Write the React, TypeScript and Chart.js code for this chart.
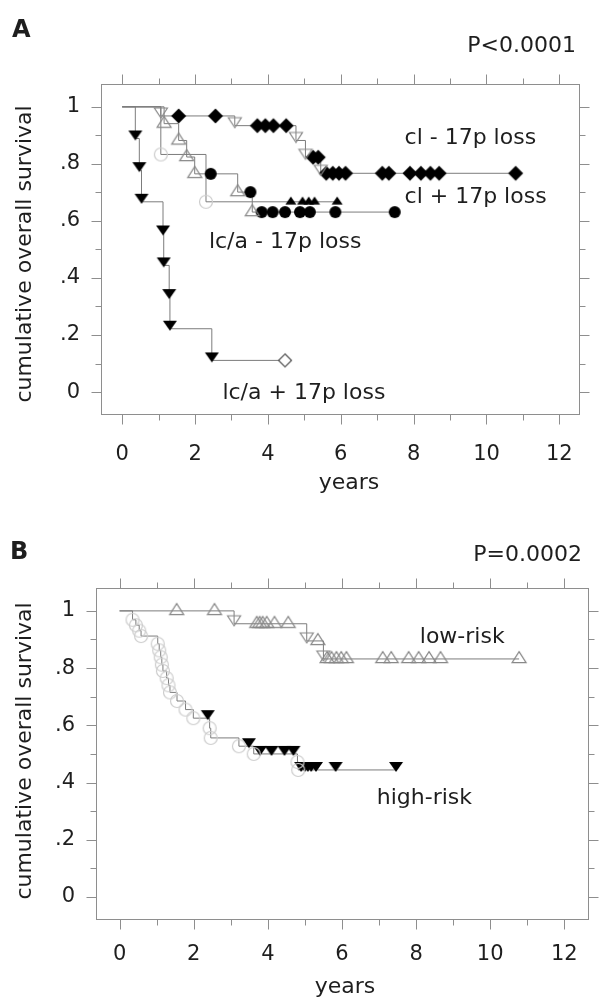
import React, { useEffect, useRef } from 'react';
import { Chart, registerables } from 'chart.js';

Chart.register(...registerables);

const FONT_FAMILY = '"DejaVu Sans", "Liberation Sans", sans-serif';
const TEXT_COLOR = '#1e1e1e';
const LINE_COLOR = '#7c7c7c';
const BOX_COLOR = '#8e8e8e';

// ---------- axes ----------
const xTickValues = [0, 2, 4, 6, 8, 10, 12];
const xTickMarks = [0, 1, 2, 3, 4, 5, 6, 7, 8, 9, 10, 11, 12];
const yTickValues = [0, 0.2, 0.4, 0.6, 0.8, 1];
const yTickLabels = ['0', '.2', '.4', '.6', '.8', '1'];
const yTickMarks = [0, 0.1, 0.2, 0.3, 0.4, 0.5, 0.6, 0.7, 0.8, 0.9, 1];

// ---------- Panel A ----------
// lc/a + 17p loss
const aLcaPlusEventT = [0.36, 0.47, 0.53, 1.12, 1.14, 1.29, 1.31, 2.46];
const aLcaPlusEventS = [0.889, 0.778, 0.667, 0.556, 0.444, 0.333, 0.222, 0.111];
const aLcaPlusCensT = [4.47];
const aLcaPlusCensS = [0.111];
// lc/a - 17p loss
const aLcaMinusEventT = [1.15, 1.55, 1.77, 1.99, 3.17, 3.57];
const aLcaMinusEventS = [0.941, 0.882, 0.824, 0.765, 0.701, 0.631];
const aLcaMinusCensT = [2.43, 3.52, 3.83, 4.13, 4.47, 4.88, 5.15, 5.85, 7.48];
const aLcaMinusCensS = [0.765, 0.701, 0.631, 0.631, 0.631, 0.631, 0.631, 0.631, 0.631];
// cl - 17p loss
const aClMinusEventT = [1.06, 3.09, 4.77, 5.03, 5.45];
const aClMinusEventS = [0.968, 0.934, 0.882, 0.823, 0.767];
const aClMinusCensT = [1.55, 2.56, 3.71, 3.93, 4.15, 4.5, 5.24, 5.38, 5.6, 5.78, 5.95, 6.13, 7.14, 7.32, 7.9, 8.2, 8.46, 8.7, 10.8];
const aClMinusCensS = [0.968, 0.968, 0.934, 0.934, 0.934, 0.934, 0.823, 0.823, 0.767, 0.767, 0.767, 0.767, 0.767, 0.767, 0.767, 0.767, 0.767, 0.767, 0.767];
// cl + 17p loss
const aClPlusEventT = [1.06, 2.3];
const aClPlusEventS = [0.833, 0.667];
const aClPlusCensT = [4.63, 4.95, 5.12, 5.28, 5.9];
const aClPlusCensS = [0.667, 0.667, 0.667, 0.667, 0.667];

// ---------- Panel B ----------
// low-risk
const bLowEventT = [3.09, 5.05, 5.5];
const bLowEventS = [0.955, 0.895, 0.832];
const bLowCensT = [1.54, 2.56, 3.7, 3.78, 3.86, 3.97, 4.18, 4.55, 5.35, 5.6, 5.72, 5.85, 5.98, 6.12, 7.1, 7.33, 7.8, 8.07, 8.35, 8.66, 10.78];
const bLowCensS = [1, 1, 0.955, 0.955, 0.955, 0.955, 0.955, 0.955, 0.895, 0.832, 0.832, 0.832, 0.832, 0.832, 0.832, 0.832, 0.832, 0.832, 0.832, 0.832, 0.832];
// high-risk
const bHighEventT = [0.35, 0.44, 0.53, 0.58, 1.03, 1.07, 1.11, 1.14, 1.17, 1.27, 1.32, 1.36, 1.55, 1.78, 1.99, 2.43, 2.46, 3.22, 3.62, 4.8, 4.82];
const bHighEventS = [0.969, 0.95, 0.931, 0.912, 0.885, 0.862, 0.838, 0.812, 0.79, 0.765, 0.74, 0.715, 0.685, 0.655, 0.625, 0.59, 0.556, 0.527, 0.5, 0.472, 0.444];
const bHighCensT = [2.38, 3.49, 3.79, 4.1, 4.45, 4.69, 4.9, 5.0, 5.08, 5.17, 5.3, 5.83, 7.46];
const bHighCensS = [0.625, 0.527, 0.5, 0.5, 0.5, 0.5, 0.444, 0.444, 0.444, 0.444, 0.444, 0.444, 0.444];

// ---------- helpers ----------
function marker(kind: string, w: number, h: number, fill: string | null, stroke: string | null, lw = 1) {
  const size = 2 * Math.ceil(Math.max(w, h)) + 8;
  const c = document.createElement('canvas');
  c.width = size;
  c.height = size;
  const g = c.getContext('2d')!;
  const cx = size / 2;
  const cy = size / 2;
  g.beginPath();
  if (kind === 'down') {
    const tip = 2;
    g.moveTo(cx - w / 2, cy + tip - h);
    g.lineTo(cx + w / 2, cy + tip - h);
    g.lineTo(cx, cy + tip);
    g.closePath();
  } else if (kind === 'up') {
    g.moveTo(cx, cy - (2 * h) / 3);
    g.lineTo(cx + w / 2, cy + h / 3);
    g.lineTo(cx - w / 2, cy + h / 3);
    g.closePath();
  } else if (kind === 'diamond') {
    g.moveTo(cx, cy - h / 2);
    g.lineTo(cx + w / 2, cy);
    g.lineTo(cx, cy + h / 2);
    g.lineTo(cx - w / 2, cy);
    g.closePath();
  } else {
    g.arc(cx, cy, w / 2, 0, Math.PI * 2);
  }
  if (fill) {
    g.fillStyle = fill;
    g.fill();
  }
  if (stroke) {
    g.strokeStyle = stroke;
    g.lineWidth = lw;
    g.stroke();
  }
  return c;
}

function kmLine(evT: number[], evS: number[], cT: number[]) {
  const end = Math.max(...evT, ...cT);
  const pts = [{ x: 0, y: 1 }];
  evT.forEach((t, i) => pts.push({ x: t, y: evS[i] }));
  pts.push({ x: end, y: evS[evS.length - 1] });
  return pts;
}

function pts(t: number[], s: number[]) {
  return t.map((v, i) => ({ x: v, y: s[i] }));
}

function lineDs(data: any[]) {
  return {
    data,
    showLine: true,
    stepped: true,
    borderColor: LINE_COLOR,
    borderWidth: 1,
    pointRadius: 0,
    fill: false,
    order: 2,
  };
}

function markDs(data: any[], style: HTMLCanvasElement) {
  return {
    data,
    showLine: false,
    pointStyle: style,
    pointRadius: 6,
    order: 0,
  };
}

type TextItem = { text: string; x: number; y: number; font: string; align: CanvasTextAlign; data?: boolean; rotate?: boolean };

function decorPlugin(texts: TextItem[]) {
  return {
    id: 'decor',
    afterDraw(chart: any) {
      const { ctx, chartArea: a, scales } = chart;
      const xs = scales.x;
      const ys = scales.y;
      ctx.save();
      ctx.strokeStyle = BOX_COLOR;
      ctx.lineWidth = 1;
      const L = Math.round(a.left) + 0.5;
      const R = Math.round(a.right) + 0.5;
      const T = Math.round(a.top) + 0.5;
      const B = Math.round(a.bottom) + 0.5;
      ctx.strokeRect(L, T, R - L, B - T);
      ctx.beginPath();
      xTickMarks.forEach((v) => {
        const px = Math.round(xs.getPixelForValue(v)) + 0.5;
        const len = v % 2 === 0 ? 10 : 6;
        ctx.moveTo(px, T);
        ctx.lineTo(px, T - len);
        ctx.moveTo(px, B);
        ctx.lineTo(px, B + len);
      });
      yTickMarks.forEach((v, i) => {
        const py = Math.round(ys.getPixelForValue(v)) + 0.5;
        const len = i % 2 === 0 ? 10 : 6;
        ctx.moveTo(L, py);
        ctx.lineTo(L - len, py);
        ctx.moveTo(R, py);
        ctx.lineTo(R + len, py);
      });
      ctx.stroke();
      ctx.fillStyle = TEXT_COLOR;
      ctx.textBaseline = 'middle';
      texts.forEach((t) => {
        ctx.font = t.font;
        ctx.textAlign = t.align;
        const x = t.data ? xs.getPixelForValue(t.x) : t.x;
        const y = t.data ? ys.getPixelForValue(t.y) : t.y;
        if (t.rotate) {
          ctx.save();
          ctx.translate(x, y);
          ctx.rotate(-Math.PI / 2);
          ctx.fillText(t.text, 0, 0);
          ctx.restore();
        } else {
          ctx.fillText(t.text, x, y);
        }
      });
      ctx.restore();
    },
  };
}

function makeConfig(p: {
  datasets: any[];
  texts: TextItem[];
  area: { left: number; right: number; top: number; bottom: number };
  height: number;
  xMin: number;
  xMax: number;
  yMin: number;
  yMax: number;
  xPad: number;
}) {
  const tickFont = { family: FONT_FAMILY, size: 21 };
  return {
    type: 'scatter',
    data: { datasets: p.datasets },
    options: {
      animation: false,
      responsive: false,
      devicePixelRatio: 1,
      layout: { padding: { left: 0, right: 601 - p.area.right, top: p.area.top, bottom: 0 } },
      plugins: { legend: { display: false }, tooltip: { enabled: false } },
      scales: {
        x: {
          type: 'linear',
          min: p.xMin,
          max: p.xMax,
          grid: { display: false, drawTicks: false },
          border: { display: false },
          afterBuildTicks: (s: any) => {
            s.ticks = xTickValues.map((v) => ({ value: v }));
          },
          afterFit: (s: any) => {
            s.height = p.height - p.area.bottom;
          },
          ticks: {
            font: tickFont,
            color: TEXT_COLOR,
            padding: p.xPad,
            maxRotation: 0,
            autoSkip: false,
            callback: (v: number) => String(v),
          },
        },
        y: {
          type: 'linear',
          min: p.yMin,
          max: p.yMax,
          grid: { display: false, drawTicks: false },
          border: { display: false },
          afterBuildTicks: (s: any) => {
            s.ticks = yTickValues.map((v) => ({ value: v }));
          },
          afterFit: (s: any) => {
            s.width = p.area.left;
          },
          ticks: {
            font: tickFont,
            color: TEXT_COLOR,
            padding: 21,
            autoSkip: false,
            callback: (_v: number, i: number) => yTickLabels[i],
          },
        },
      },
    },
    plugins: [decorPlugin(p.texts)],
  } as any;
}

const LBL = `22px ${FONT_FAMILY}`;
const BOLD = `bold 24px ${FONT_FAMILY}`;

export default function App() {
  const refA = useRef<HTMLCanvasElement>(null);
  const refB = useRef<HTMLCanvasElement>(null);

  useEffect(() => {
    const downBlack = marker('down', 14, 10, '#000', null);
    const downGray = marker('down', 13, 10, null, '#888', 1.2);
    const upGray = marker('up', 14, 11, null, '#888', 1.2);
    const upBlackSmall = marker('up', 11, 8, '#000', null);
    const diamondBlack = marker('diamond', 15, 15, '#000', null);
    const diamondOpen = marker('diamond', 13, 13, '#fff', '#555', 1.2);
    const dotBlack = marker('circle', 12, 12, '#000', null);
    const ringLight = marker('circle', 13, 13, null, '#cdcdcd', 1.2);

    const cfgA = makeConfig({
      height: 500,
      area: { left: 101, right: 597, top: 84, bottom: 414 },
      xMin: -0.582,
      xMax: 12.529,
      yMin: -0.0769,
      yMax: 1.08,
      xPad: 28,
      datasets: [
        lineDs(kmLine(aLcaPlusEventT, aLcaPlusEventS, aLcaPlusCensT)),
        lineDs(kmLine(aLcaMinusEventT, aLcaMinusEventS, aLcaMinusCensT)),
        lineDs(kmLine(aClMinusEventT, aClMinusEventS, aClMinusCensT)),
        lineDs(kmLine(aClPlusEventT, aClPlusEventS, aClPlusCensT)),
        markDs(pts(aClPlusEventT, aClPlusEventS), ringLight),
        markDs(pts(aLcaMinusEventT, aLcaMinusEventS), upGray),
        markDs(pts(aClMinusEventT, aClMinusEventS), downGray),
        markDs(pts(aClPlusCensT, aClPlusCensS), upBlackSmall),
        markDs(pts(aLcaMinusCensT, aLcaMinusCensS), dotBlack),
        markDs(pts(aClMinusCensT, aClMinusCensS), diamondBlack),
        markDs(pts(aLcaPlusCensT, aLcaPlusCensS), diamondOpen),
        markDs(pts(aLcaPlusEventT, aLcaPlusEventS), downBlack),
      ],
      texts: [
        { text: 'A', x: 12, y: 31, font: BOLD, align: 'left' },
        { text: 'P<0.0001', x: 576, y: 46, font: LBL, align: 'right' },
        { text: 'cumulative overall survival', x: 25, y: 254, font: LBL, align: 'center', rotate: true },
        { text: 'years', x: 349, y: 483, font: LBL, align: 'center' },
        { text: 'cl - 17p loss', x: 7.75, y: 0.888, font: LBL, align: 'left', data: true },
        { text: 'cl + 17p loss', x: 7.75, y: 0.682, font: LBL, align: 'left', data: true },
        { text: 'lc/a - 17p loss', x: 2.38, y: 0.524, font: LBL, align: 'left', data: true },
        { text: 'lc/a + 17p loss', x: 2.75, y: -0.003, font: LBL, align: 'left', data: true },
      ],
    });

    const cfgB = makeConfig({
      height: 503,
      area: { left: 96, right: 597, top: 88, bottom: 419 },
      xMin: -0.636,
      xMax: 12.636,
      yMin: -0.077,
      yMax: 1.08,
      xPad: 23,
      datasets: [
        lineDs(kmLine(bLowEventT, bLowEventS, bLowCensT)),
        lineDs(kmLine(bHighEventT, bHighEventS, bHighCensT)),
        markDs(pts(bHighEventT, bHighEventS), ringLight),
        markDs(pts(bLowCensT, bLowCensS), upGray),
        markDs(pts(bLowEventT, bLowEventS), downGray),
        markDs(pts(bHighCensT, bHighCensS), downBlack),
      ],
      texts: [
        { text: 'B', x: 10, y: 53, font: BOLD, align: 'left' },
        { text: 'P=0.0002', x: 582, y: 55, font: LBL, align: 'right' },
        { text: 'cumulative overall survival', x: 25, y: 251, font: LBL, align: 'center', rotate: true },
        { text: 'years', x: 345, y: 487, font: LBL, align: 'center' },
        { text: 'low-risk', x: 8.1, y: 0.909, font: LBL, align: 'left', data: true },
        { text: 'high-risk', x: 6.94, y: 0.346, font: LBL, align: 'left', data: true },
      ],
    });

    const chartA = new Chart(refA.current!, cfgA);
    const chartB = new Chart(refB.current!, cfgB);
    return () => {
      chartA.destroy();
      chartB.destroy();
    };
  }, []);

  return (
    <div style={{ position: 'absolute', left: 0, top: 0, width: 601, height: 1003, background: '#fff' }}>
      <canvas ref={refA} width={601} height={500} style={{ position: 'absolute', left: 0, top: 0, display: 'block' }} />
      <canvas ref={refB} width={601} height={503} style={{ position: 'absolute', left: 0, top: 500, display: 'block' }} />
    </div>
  );
}
